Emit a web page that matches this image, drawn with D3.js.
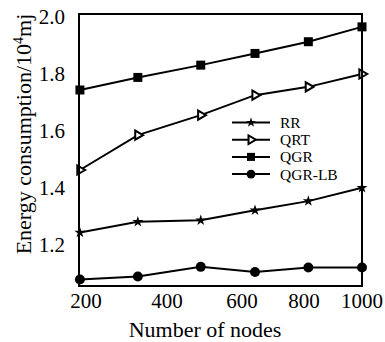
<!doctype html>
<html>
	<head>
		<title>Energy consumption vs number of nodes</title>
		<style>
			body{ margin: 0; background: white; }
			svg text{ font-family: "Liberation Serif", "Times New Roman", serif; fill: black; }
		</style>
	</head>
	<body>
		<svg id="chart" width="385" height="342"></svg>
		<script src="https://cdn.jsdelivr.net/npm/d3@7/dist/d3.min.js"></script>
		<script>
			// data
			var nodes = [185, 328, 490, 642, 815, 1000];
			var seriesNames = ["RR", "QRT", "QGR", "QGR-LB"];
			var rr = [1.244, 1.282, 1.287, 1.322, 1.354, 1.401];
			var qrt = [1.463, 1.585, 1.655, 1.725, 1.754, 1.799];
			var qgr = [1.743, 1.787, 1.830, 1.871, 1.912, 1.964];
			var qgrlb = [1.080, 1.090, 1.124, 1.106, 1.122, 1.122];
			var xTicks = [200, 400, 600, 800, 1000];
			var yTicks = [1.2, 1.4, 1.6, 1.8, 2.0];

			var plotL = 79, plotR = 362, plotT = 14, plotB = 286;
			var svg = d3.select("#chart");

			// x labels in the original are not evenly spaced, so the scale is piecewise
			var x = d3.scaleLinear().domain(xTicks).range([86, 167, 242, 304, 362]);
			var y = d3.scaleLinear().domain([1.057, 2.009]).range([plotB, plotT]);

			var series = [
				{name: seriesNames[0], values: rr, type: d3.symbolStar, size: 38, open: false},
				{name: seriesNames[1], values: qrt, type: d3.symbolTriangle, size: 36, open: true},
				{name: seriesNames[2], values: qgr, type: d3.symbolSquare, size: 81, open: false},
				{name: seriesNames[3], values: qgrlb, type: d3.symbolCircle, size: 78, open: false}
			];

			var line = d3.line()
				.x(function(d, i){ return x(nodes[i]); })
				.y(function(d){ return y(d); });

			function marker(g, s, size){
				var p = g.append("path").attr("d", d3.symbol().type(s.type).size(size)());
				if(s.open){
					p.attr("transform", "rotate(90)")
						.attr("fill", "white").attr("stroke", "black").attr("stroke-width", 2);
				}else{
					p.attr("fill", "black");
				}
			}

			series.forEach(function(s){
				svg.append("path")
					.attr("d", line(s.values))
					.attr("fill", "none")
					.attr("stroke", "black")
					.attr("stroke-width", 2);
				s.values.forEach(function(v, i){
					var g = svg.append("g")
						.attr("transform", "translate(" + x(nodes[i]) + "," + y(v) + ")");
					marker(g, s, s.size);
				});
			});

			// frame
			svg.append("rect")
				.attr("x", plotL).attr("y", plotT)
				.attr("width", plotR - plotL).attr("height", plotB - plotT)
				.attr("fill", "none").attr("stroke", "black").attr("stroke-width", 2);

			// tick labels
			svg.selectAll(".xt").data(xTicks).enter().append("text")
				.attr("class", "xt")
				.attr("x", function(d){ return x(d); })
				.attr("y", 308)
				.attr("text-anchor", "middle")
				.style("font-size", "21px")
				.text(function(d){ return d; });

			svg.selectAll(".yt").data(yTicks).enter().append("text")
				.attr("class", "yt")
				.attr("x", 65)
				.attr("y", function(d){ return y(d) + 7; })
				.attr("text-anchor", "end")
				.style("font-size", "21px")
				.text(function(d){ return d.toFixed(1); });

			// axis titles
			svg.append("text")
				.attr("x", 205).attr("y", 337)
				.attr("text-anchor", "middle")
				.style("font-size", "22px")
				.text("Number of nodes");

			var yt = svg.append("text")
				.attr("transform", "translate(31,134) rotate(-90)")
				.attr("text-anchor", "middle")
				.style("font-size", "22px");
			yt.append("tspan").text("Energy consumption/10");
			yt.append("tspan").attr("dy", -8).style("font-size", "14px").text("4");
			yt.append("tspan").attr("dy", 8).text("mj");

			// legend
			var leg = svg.selectAll(".leg").data(series).enter().append("g")
				.attr("class", "leg")
				.attr("transform", function(d, i){ return "translate(232," + (122.5 + i * 17.2) + ")"; });
			leg.append("line")
				.attr("x1", 0).attr("x2", 38)
				.attr("stroke", "black").attr("stroke-width", 2);
			leg.each(function(s){
				var g = d3.select(this).append("g").attr("transform", "translate(19,0)");
				marker(g, s, s.open ? 32 : s.size * 0.8);
			});
			leg.append("text")
				.attr("x", 48).attr("y", 5.5)
				.style("font-size", "15.5px")
				.text(function(d){ return d.name; });
		</script>
	</body>
</html>
